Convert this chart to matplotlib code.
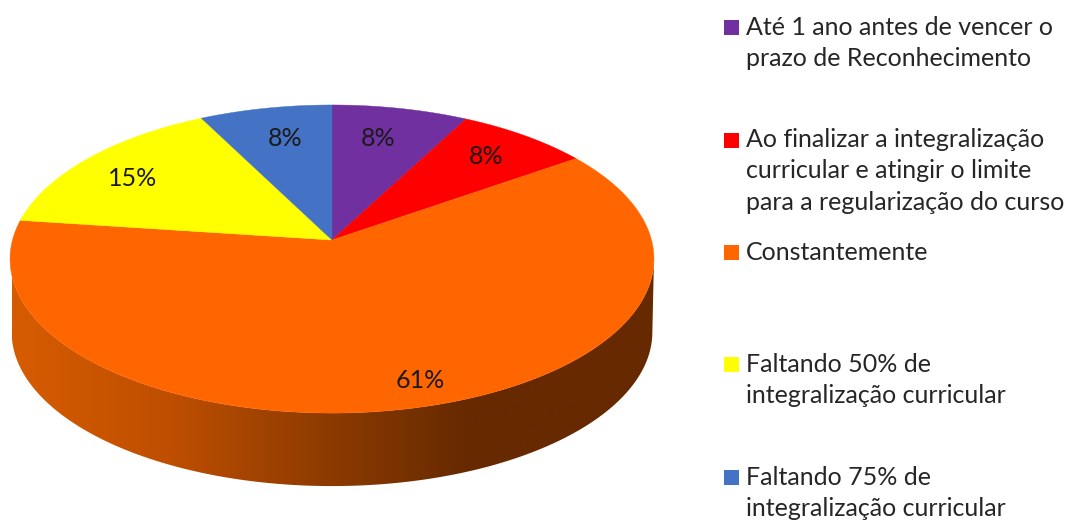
#------ Pizza 3D com perspectiva, desenhada em coordenadas de pixel
import numpy as np
import matplotlib
matplotlib.use("Agg")
import matplotlib.pyplot as plt
from matplotlib.colors import LinearSegmentedColormap
from matplotlib.patches import PathPatch, Polygon, Rectangle
from matplotlib.path import Path
from matplotlib.transforms import Affine2D

plt.rcParams['font.family'] = ['Lato', 'DejaVu Sans']

#------ Dados
categorias = ["Até 1 ano antes de vencer o\nprazo de Reconhecimento",
              "Ao finalizar a integralização\ncurricular e atingir o limite\npara a regularização do curso",
              "Constantemente",
              "Faltando 50% de\nintegralização curricular",
              "Faltando 75% de\nintegralização curricular"]
valores = [7.7, 7.55, 61.85, 15.4, 7.5]
rotulos = ["8%", "8%", "61%", "15%", "8%"]
cores = ["#7030A0", "#FF0000", "#FF6600", "#FFFF00", "#4472C4"]

#------ Layout (pixels)
W, H = 1068, 522
cx, cy = 332, 240    # vertice da pizza
a, b, k = 319.5, 151.7, 0.1235    # perspectiva do disco
prof = 73    # altura da parede lateral
rot_x = [378, 486, 420, 133, 285]
rot_y = [139, 157, 380, 178, 138]
leg_y = [27, 140, 252, 364, 477]    # quadrado de cada item
txt_y = [43, 171, 252, 380, 493]

def proj(x, y):
    return cx + a*x/(1 + k*y), cy - b*y/(1 + k*y)

fig = plt.figure(figsize=(W/100, H/100), dpi=100)
ax = fig.add_axes([0, 0, 1, 1])

wedges, _ = ax.pie(valores, colors=cores, startangle=90, counterclock=False)

#parede lateral com gradiente
t0 = np.arctan2(-k, np.sqrt(1 - k**2))
th = np.linspace(np.pi - t0, 2*np.pi + t0, 300)
xs, ys = proj(np.cos(th), np.sin(th))
parede = np.vstack([np.c_[xs, ys], np.c_[cx + (xs - cx)[::-1]*0.995, ys[::-1] + prof]])
cmap = LinearSegmentedColormap.from_list("parede", [(0, "#D65C00"), (0.25, "#BE4E00"), (0.41, "#9C4100"),
                                                    (0.58, "#7D3400"), (0.715, "#662900"), (1, "#662900")])
img = ax.imshow(np.linspace(0, 1, 400)[None, :], cmap=cmap, extent=(12, 655, 490, 240),
                aspect='auto', zorder=1)
img.set_clip_path(Polygon(parede, closed=True, transform=ax.transData))

#fatias: pega as fatias do pie e aplica a perspectiva
for w, cor in zip(wedges, cores):
    p = w.get_patch_transform().transform_path(w.get_path())
    poli = Affine2D().scale(500).transform_path(p).to_polygons()[0]/500
    X, Y = proj(poli[:, 0], poli[:, 1])
    ax.add_patch(PathPatch(Path(np.c_[X, Y]), facecolor=cor, edgecolor=cor, lw=0.3, zorder=2))
    w.remove()

for x, y, r in zip(rot_x, rot_y, rotulos):
    ax.text(x, y, r, fontsize=18, color="#1a1a1a", ha='center', va='center', zorder=3)

#legenda
for cat, cor, ly, ty in zip(categorias, cores, leg_y, txt_y):
    ax.add_patch(Rectangle((724, ly - 7.5), 15, 15, facecolor=cor, edgecolor='none'))
    ax.text(746, ty, cat, fontsize=18, color="#262626", ha='left', va='center', linespacing=1.46)

ax.set_xlim(0, W)
ax.set_ylim(H, 0)
ax.axis('off')

fig.savefig("out.png", dpi=100)
